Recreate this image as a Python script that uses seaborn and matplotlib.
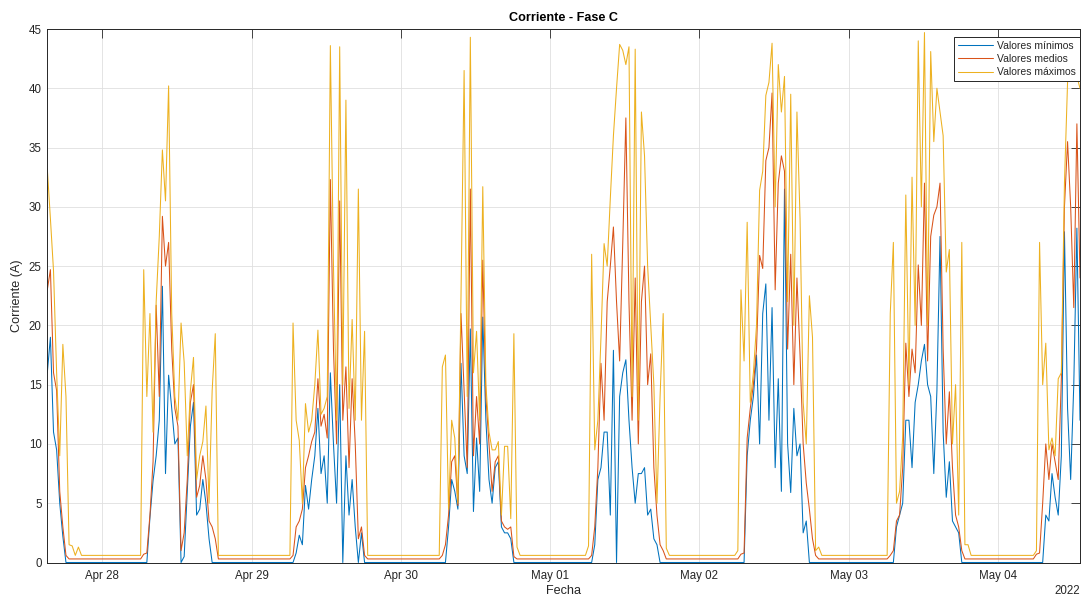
import pandas as pd
import matplotlib
matplotlib.use("Agg")
import matplotlib.pyplot as plt
import matplotlib.dates as mdates
import seaborn as sns

# Phase C current, half-hourly samples from 27 Apr 2022 15:10 to 4 May 2022 13:10
start_time = "2022-04-27 15:10"
sample_step = "30min"

series_names = ["Valores mínimos", "Valores medios", "Valores máximos"]
series_colors = ["#0072BD", "#D95319", "#EDB120"]

# overnight standby level of each series (A)
night_min, night_med, night_max = 0.0, 0.3, 0.6
# half-hour samples in each overnight gap between the daytime stretches
night_samples = [20, 23, 24, 22, 22, 22, 21]

# daytime stretches (A)
min_apr27 = [16.0, 19.0, 11.0, 9.5, 5.0, 2.2, 0.0, 0.0, 0.0, 0.0, 0.0]
med_apr27 = [23.0, 24.7, 16.0, 14.5, 6.0, 3.0, 0.6, 0.3, 0.3, 0.3, 0.3]
max_apr27 = [33.2, 29.0, 24.6, 16.0, 9.0, 18.4, 14.0, 1.5, 1.4, 0.6, 1.3]

min_apr28 = [0.0, 0.0, 3.8, 6.9, 9.0, 12.0, 23.3, 7.5, 15.8, 13.0, 10.0, 10.5, 0.0,
             0.5, 6.0, 11.5, 13.5, 4.0, 4.5, 7.0, 5.0, 2.0, 0.0, 0.0, 0.0]
med_apr28 = [0.7, 0.8, 4.0, 8.5, 21.7, 14.0, 29.2, 25.0, 27.0, 18.0, 13.0, 11.5, 1.0,
             2.5, 7.0, 13.5, 15.0, 5.5, 6.5, 9.0, 7.0, 3.5, 3.0, 2.0, 0.3]
max_apr28 = [24.7, 14.0, 21.0, 11.0, 22.0, 27.5, 34.8, 30.5, 40.2, 21.0, 14.0, 12.0, 20.2,
             16.9, 9.0, 14.5, 17.3, 7.0, 9.0, 10.2, 13.2, 5.0, 14.5, 19.3, 0.6]

min_apr29 = [0.0, 0.8, 2.3, 1.5, 6.5, 4.5, 7.0, 9.0, 13.0, 7.5, 9.0, 5.0,
             16.0, 10.0, 5.0, 15.0, 0.0, 9.0, 4.0, 7.0, 3.0, 0.0, 2.5, 0.0]
med_apr29 = [0.6, 3.0, 3.5, 4.5, 8.0, 9.0, 10.2, 11.0, 15.5, 11.5, 12.5, 10.5,
             32.3, 18.0, 10.0, 30.5, 12.0, 16.5, 8.0, 15.5, 10.0, 2.0, 3.0, 0.6]
max_apr29 = [20.2, 12.0, 10.3, 5.0, 13.4, 11.0, 12.0, 15.0, 19.6, 12.5, 13.0, 14.0,
             43.6, 25.0, 12.0, 43.5, 15.0, 39.0, 13.0, 20.5, 12.0, 31.5, 12.0, 19.5]

min_apr30 = [0.0, 0.0, 3.0, 7.0, 6.0, 4.5, 16.8, 9.0, 7.5, 19.7, 4.3, 10.5, 6.0,
             20.7, 12.0, 7.0, 5.0, 8.0, 8.5, 3.0, 2.5, 2.5, 2.0, 0.0, 0.0]
med_apr30 = [0.6, 1.5, 4.0, 8.5, 9.0, 4.8, 21.0, 14.5, 8.0, 31.5, 9.0, 14.0, 10.0,
             25.5, 14.0, 10.0, 6.0, 8.5, 9.0, 3.5, 3.0, 2.8, 3.0, 0.5, 0.3]
max_apr30 = [16.5, 17.5, 4.5, 12.0, 10.5, 5.0, 22.5, 41.5, 14.0, 44.3, 16.0, 19.5, 12.0,
             31.7, 15.0, 11.0, 9.5, 9.5, 10.2, 4.0, 9.8, 9.8, 3.7, 19.3, 1.3]

min_may01 = [0.0, 0.0, 1.5, 7.0, 8.0, 11.0, 11.0, 4.0, 17.9, 0.0, 14.0, 16.0, 17.1,
             12.0, 8.0, 5.0, 7.5, 7.5, 8.0, 4.0, 4.5, 2.0, 1.5, 0.0, 0.0, 0.0]
med_may01 = [0.3, 0.6, 3.0, 8.0, 16.8, 12.0, 22.0, 25.0, 28.3, 22.0, 17.0, 26.9, 37.5,
             22.0, 12.0, 24.0, 10.0, 22.0, 25.0, 15.0, 17.6, 8.0, 4.0, 1.5, 1.0, 0.3]
max_may01 = [1.4, 26.0, 9.5, 12.0, 19.0, 26.9, 25.0, 30.7, 36.0, 40.0, 43.7, 43.2, 42.0,
             43.5, 14.0, 43.3, 12.0, 38.0, 34.3, 25.0, 20.0, 15.0, 5.0, 14.0, 21.0, 1.2]

min_may02 = [0.0, 0.0, 0.0, 9.0, 12.0, 14.0, 17.5, 10.0, 21.0, 23.5, 12.0, 21.5, 8.0, 15.5,
             6.0, 31.5, 10.0, 5.9, 13.0, 9.0, 10.0, 2.5, 3.5, 0.0, 0.0, 0.0, 0.0]
med_may02 = [0.3, 0.7, 0.8, 10.5, 13.0, 15.0, 18.0, 25.9, 24.8, 33.9, 35.0, 39.6, 23.0, 32.0,
             34.3, 33.0, 18.0, 26.0, 15.0, 24.0, 17.5, 10.0, 6.7, 4.5, 2.0, 0.6, 0.3]
max_may02 = [1.0, 23.0, 17.0, 28.7, 13.5, 16.0, 20.0, 31.4, 33.0, 39.4, 40.5, 43.8, 30.0, 42.0,
             38.0, 41.0, 22.0, 39.5, 20.0, 38.0, 29.0, 13.5, 10.0, 22.5, 19.0, 1.0, 1.3]

min_may03 = [0.0, 0.0, 3.0, 4.0, 5.0, 12.0, 12.0, 8.0, 13.5, 15.0, 17.0, 18.4, 15.0,
             14.0, 7.5, 14.5, 27.5, 11.0, 5.5, 8.5, 3.5, 3.0, 2.5, 0.0, 0.0, 0.0]
med_may03 = [0.6, 1.0, 3.5, 4.0, 8.0, 18.5, 14.0, 18.0, 16.0, 25.1, 20.0, 32.0, 17.0,
             27.5, 29.3, 30.0, 32.0, 18.0, 10.0, 14.4, 8.0, 4.0, 3.0, 1.0, 0.3, 0.3]
max_may03 = [21.0, 27.0, 5.0, 6.0, 10.6, 31.0, 15.0, 32.5, 20.0, 44.0, 30.0, 44.7, 20.0,
             43.1, 35.5, 40.0, 38.0, 36.0, 24.5, 26.4, 10.0, 15.0, 4.0, 27.0, 1.5, 1.5]

min_may04 = [0.0, 0.0, 0.0, 4.0, 3.5, 7.5, 5.5, 4.0, 9.0, 27.9, 13.0, 7.0, 15.0, 28.2, 12.0]
med_may04 = [0.7, 0.8, 5.0, 10.0, 7.0, 10.0, 8.5, 7.0, 15.5, 30.0, 35.5, 30.0, 21.5, 37.0, 24.0]
max_may04 = [1.0, 27.0, 15.0, 18.5, 9.5, 10.5, 9.0, 15.5, 16.0, 32.0, 40.5, 44.0, 42.8, 41.0, 40.0]

date_ticks = ["2022-04-28", "2022-04-29", "2022-04-30", "2022-05-01",
              "2022-05-02", "2022-05-03", "2022-05-04"]
y_ticks = [0, 5, 10, 15, 20, 25, 30, 35, 40, 45]


def join_days(days, night_level):
    """Chain daytime stretches with flat overnight standby gaps."""
    values = list(days[0])
    for gap, day in zip(night_samples, days[1:]):
        values += [night_level] * gap + list(day)
    return values


min_vals = join_days([min_apr27, min_apr28, min_apr29, min_apr30,
                      min_may01, min_may02, min_may03, min_may04], night_min)
med_vals = join_days([med_apr27, med_apr28, med_apr29, med_apr30,
                      med_may01, med_may02, med_may03, med_may04], night_med)
max_vals = join_days([max_apr27, max_apr28, max_apr29, max_apr30,
                      max_may01, max_may02, max_may03, max_may04], night_max)

times = pd.date_range(start_time, periods=len(max_vals), freq=sample_step)

frames = []
for name, vals in zip(series_names, [min_vals, med_vals, max_vals]):
    frames.append(pd.DataFrame({"Fecha": times, "Corriente": vals, "Serie": name}))
df = pd.concat(frames, ignore_index=True)

sns.set_theme(style="white")
plt.rcParams["font.family"] = ["Liberation Sans", "DejaVu Sans"]

ink = "#262626"
tick_size = 8.3
label_size = 9.1

fig = plt.figure(figsize=(10.81, 5.96), dpi=100, facecolor="white")
ax = fig.add_axes([47.3 / 1081, 33.5 / 596, 1032.7 / 1081, 533.5 / 596])

sns.lineplot(data=df, x="Fecha", y="Corriente", hue="Serie",
             hue_order=series_names, palette=series_colors,
             estimator=None, linewidth=0.75, legend=False, ax=ax)

ax.set_xlim(times[0], times[-1])
ax.set_ylim(0, 45)
ax.set_yticks(y_ticks)
ax.set_xticks(pd.to_datetime(date_ticks))
ax.xaxis.set_major_formatter(mdates.DateFormatter("%b %d"))

ax.set_axisbelow(True)
ax.grid(True, color="#DFDFDF", linewidth=0.6)
for side in ["left", "right", "top", "bottom"]:
    ax.spines[side].set_visible(True)
    ax.spines[side].set_color(ink)
    ax.spines[side].set_linewidth(0.7)

ax.tick_params(axis="both", which="major", direction="in", length=6.5, width=0.6,
               top=True, right=True, colors=ink, labelsize=tick_size, pad=4)
ax.tick_params(axis="x", pad=5.5)

ax.set_title("Corriente - Fase C", fontsize=label_size, fontweight="bold",
             color="black", pad=5.5)
ax.set_xlabel("Fecha", fontsize=label_size, color=ink)
ax.xaxis.set_label_coords(0.5, -0.042)
ax.set_ylabel("Corriente (A)", fontsize=label_size, color=ink)
ax.yaxis.label.set_va("center")
ax.yaxis.set_label_coords(-0.0289, 0.5)
ax.text(1.0, -0.043, "2022", transform=ax.transAxes, ha="right", va="top",
        fontsize=tick_size, color=ink)

leg = ax.legend(ax.get_lines()[:3], series_names, loc="upper right",
                bbox_to_anchor=(1.0, 0.9845), fontsize=7.5, frameon=True,
                fancybox=False, framealpha=1.0, edgecolor=ink,
                handlelength=3.4, handletextpad=0.4, labelspacing=0.3,
                borderpad=0.35, borderaxespad=0.0)
leg.get_frame().set_linewidth(0.7)

fig.savefig("out.png", dpi=100, facecolor="white")
